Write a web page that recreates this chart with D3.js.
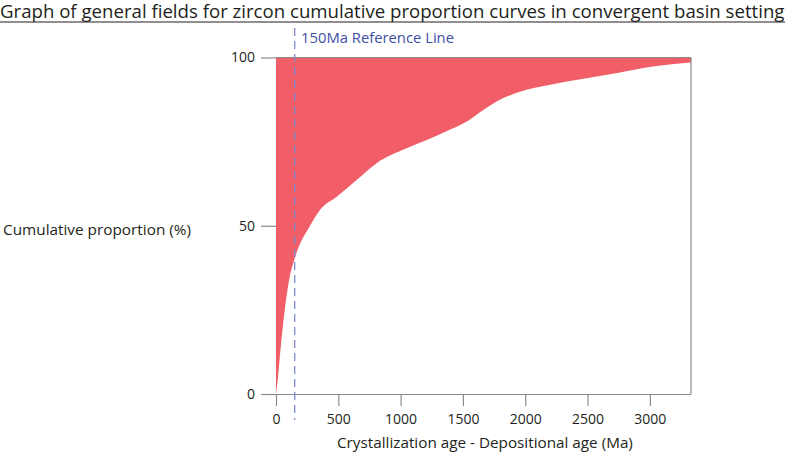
<!DOCTYPE html>
<html>
<head>
<meta charset="utf-8">
<script src="https://cdn.jsdelivr.net/npm/d3@7/dist/d3.min.js"></script>
<style>
  html, body { margin: 0; padding: 0; background: #fff; }
  svg { display: block; }
  text { font-family: "Open Sans", "Noto Sans", sans-serif; fill: #231f20; }
</style>
</head>
<body>
<svg id="chart" width="800" height="467"></svg>
<script>
// ---- data ----
const titleText = "Graph of general fields for zircon cumulative proportion curves in convergent basin setting";
const xTitle = "Crystallization age - Depositional age (Ma)";
const yTitle = "Cumulative proportion (%)";
const refLabel = "150Ma Reference Line";
const refAge = 150;
const xTicks = [0, 500, 1000, 1500, 2000, 2500, 3000];
const yTicks = [0, 50, 100];
// lower boundary of the field (age in Ma, cumulative %)
const curveAge = [0, 13, 38, 67, 105, 152, 273, 353, 487, 647, 808, 1048, 1200, 1350, 1542, 1660, 1770, 1957, 2200, 2492, 2750, 3026, 3330];
const curvePct = [0, 4, 14, 24, 33.9, 40.5, 50, 54.7, 58.6, 63.6, 68.6, 73, 75.3, 77.8, 81.2, 84.3, 86.9, 89.8, 91.9, 93.8, 95.5, 97.3, 98.5];

// ---- layout ----
const svg = d3.select("#chart");
const x = d3.scaleLinear().domain([0, 3330]).range([276, 691]);
const y = d3.scaleLinear().domain([0, 100]).range([394, 57.5]);
const axisColor = "#8a8a8a";

function fitText(sel, width) {
  const node = sel.node();
  let fs = parseFloat(sel.attr("font-size"));
  const w = node.getComputedTextLength();
  sel.attr("font-size", (fs * width / w).toFixed(2));
}

// title
const t = svg.append("text").attr("x", 0).attr("y", 18).attr("font-size", 19).text(titleText);
fitText(t, 785);
svg.append("line").attr("x1", 0).attr("x2", 785).attr("y1", 22).attr("y2", 22)
  .attr("stroke", "#231f20").attr("stroke-width", 1.2);

// field
const pts = curveAge.map((a, i) => [a, curvePct[i]]);
const area = d3.area()
  .x(d => x(d[0]))
  .y0(d => y(d[1]))
  .y1(() => y(100))
  .curve(d3.curveMonotoneX);
svg.append("path").datum(pts).attr("d", area).attr("fill", "#f25e67");

// frame: top and right border
svg.append("line").attr("x1", x(0)).attr("x2", x(3330)).attr("y1", y(100)).attr("y2", y(100))
  .attr("stroke", axisColor).attr("stroke-width", 1.2);
svg.append("line").attr("x1", x(3330)).attr("x2", x(3330)).attr("y1", y(100)).attr("y2", y(0))
  .attr("stroke", axisColor).attr("stroke-width", 1.2);

// x axis
const xAxis = d3.axisBottom(x).tickValues(xTicks).tickFormat(d3.format("d"))
  .tickSize(12).tickSizeOuter(0).tickPadding(10);
const gx = svg.append("g").attr("transform", `translate(0,${y(0)})`).call(xAxis);
gx.select(".domain").attr("stroke", axisColor).attr("stroke-width", 1.2)
  .attr("d", `M${x(0) - 15},0.5H${x(3330)}`);
gx.selectAll(".tick line").attr("stroke", axisColor).attr("stroke-width", 1.2);
gx.selectAll(".tick text").attr("font-size", 14).attr("fill", "#231f20")
  .attr("font-family", "\"Open Sans\", sans-serif").attr("dy", "0.6em");

// y axis
const yAxis = d3.axisLeft(y).tickValues(yTicks).tickSize(15).tickSizeOuter(0).tickPadding(6);
const gy = svg.append("g").attr("transform", `translate(${x(0)},0)`).call(yAxis);
gy.select(".domain").remove();
gy.selectAll(".tick line").attr("stroke", axisColor).attr("stroke-width", 1.2);
gy.selectAll(".tick text").attr("font-size", 14).attr("fill", "#231f20")
  .attr("font-family", "\"Open Sans\", sans-serif");

// axis titles
const xt = svg.append("text").attr("x", 337).attr("y", 448).attr("font-size", 15).text(xTitle);
fitText(xt, 296);
const yt = svg.append("text").attr("x", 3).attr("y", 235).attr("font-size", 15).text(yTitle);
fitText(yt, 188);

// reference line
svg.append("line").attr("x1", x(refAge)).attr("x2", x(refAge)).attr("y1", 28).attr("y2", 420)
  .attr("stroke", "#7f8bcc").attr("stroke-width", 1.3).attr("stroke-dasharray", "8,5");
const rl = svg.append("text").attr("x", 301).attr("y", 43).attr("font-size", 15)
  .style("fill", "#3d4ea3").text(refLabel);
fitText(rl, 153);
</script>
</body>
</html>
